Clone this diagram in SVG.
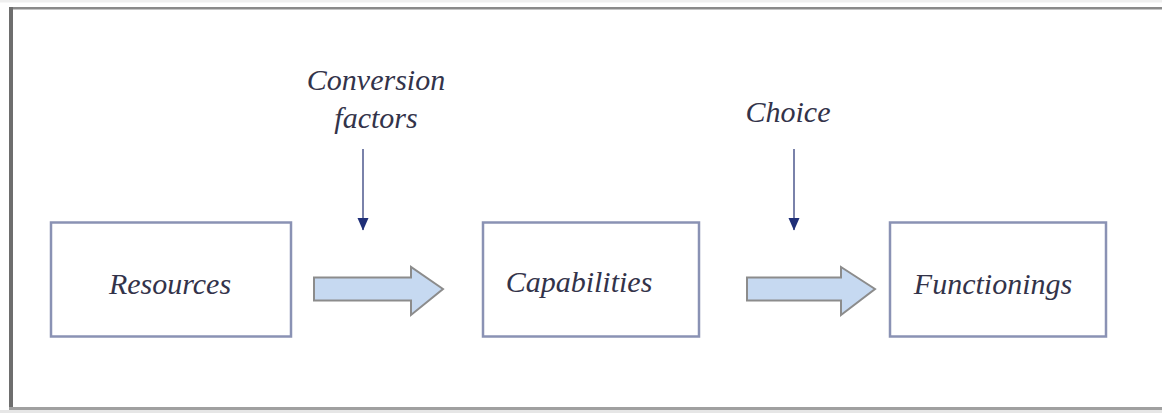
<svg xmlns="http://www.w3.org/2000/svg" width="1162" height="413" viewBox="0 0 1162 413">
<defs>
<style>
.box{fill:#fff;stroke:#8a92b4;stroke-width:2.5}
.lbl{font-family:"Liberation Serif","Times New Roman",serif;font-style:italic;font-size:30px;fill:#33334a;text-anchor:middle}
.blk{fill:#c6d9f1;stroke:#8c8c8c;stroke-width:2}
.vline{stroke:#7a82aa;stroke-width:2;fill:none}
</style>
<marker id="ah" markerWidth="13" markerHeight="12" refX="12" refY="6" orient="auto" markerUnits="userSpaceOnUse" viewBox="0 0 13 12">
<path d="M0,0.5 L12.5,6 L0,11.5 Z" fill="#1f2f78"/>
</marker>
</defs>
<rect x="0" y="0" width="1162" height="413" fill="#fff"/>
<rect x="0" y="0" width="1162" height="2.5" fill="#efefef"/>
<g id="frame">
<rect x="9" y="7" width="1153" height="2.5" fill="#8a8a8a"/>
<rect x="9" y="7" width="4" height="403" fill="#6e6e6e"/>
<rect x="9" y="407" width="1153" height="3" fill="#a0a0a0"/>
<rect x="0" y="410" width="1162" height="3" fill="#e6e6e6"/>
</g>
<g id="resources">
<rect class="box" x="51" y="222.5" width="240" height="114"/>
<text class="lbl" x="170" y="294">Resources</text>
</g>
<g id="capabilities">
<rect class="box" x="483" y="222.5" width="216" height="114"/>
<text class="lbl" x="579" y="292">Capabilities</text>
</g>
<g id="functionings">
<rect class="box" x="890" y="222.5" width="216" height="114"/>
<text class="lbl" x="993" y="294">Functionings</text>
</g>
<g id="conversion-factors">
<text class="lbl" x="376" y="90">Conversion</text>
<text class="lbl" x="376" y="128">factors</text>
</g>
<g id="choice">
<text class="lbl" x="788" y="122">Choice</text>
</g>
<g id="connectors">
<path class="blk" d="M314,277.5 L411,277.5 L411,267 L443,289 L411,315 L411,300.5 L314,300.5 Z"/>
<path class="blk" d="M747,277.5 L841,277.5 L841,267 L875,289 L841,315 L841,300.5 L747,300.5 Z"/>
<line class="vline" x1="363" y1="149" x2="363" y2="230" marker-end="url(#ah)"/>
<line class="vline" x1="794" y1="149" x2="794" y2="230" marker-end="url(#ah)"/>
</g>
</svg>
